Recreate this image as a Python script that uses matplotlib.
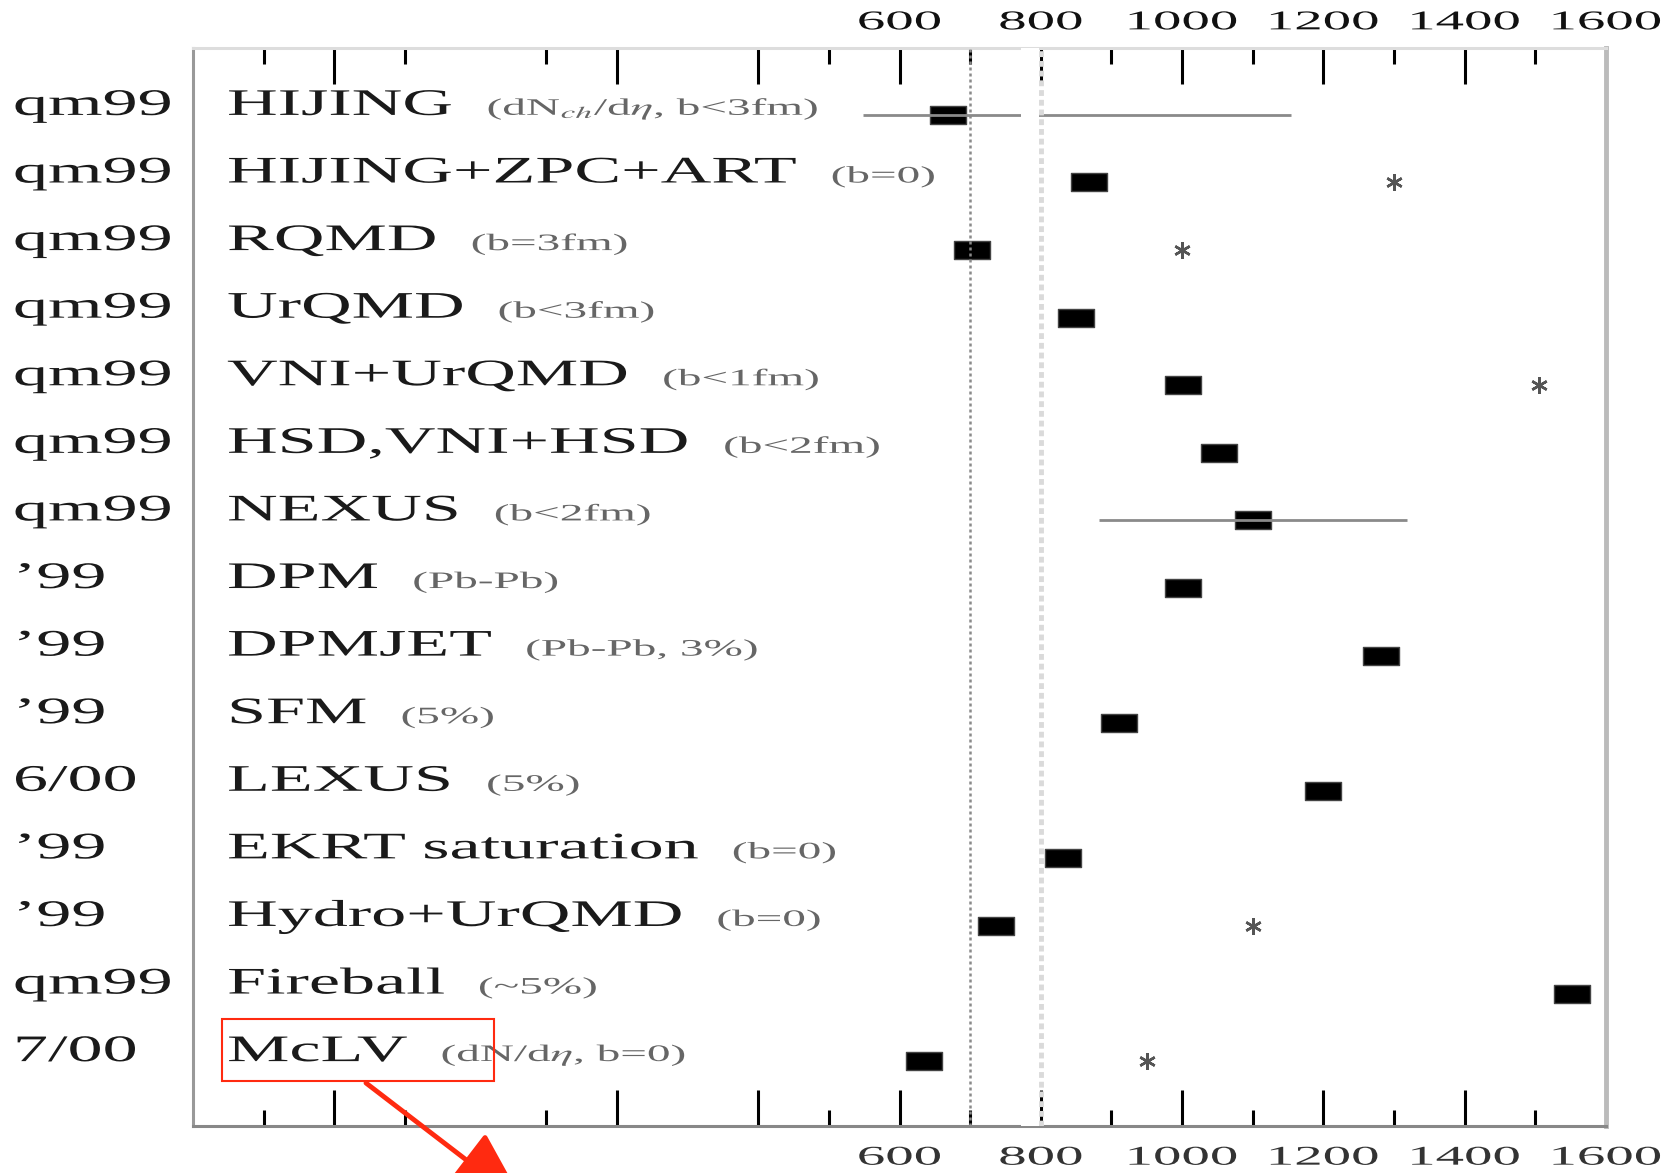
import matplotlib
matplotlib.use("Agg")
import matplotlib.pyplot as plt
import numpy as np
from matplotlib import patheffects
from matplotlib import transforms
from matplotlib.patches import Rectangle
from matplotlib.path import Path
from matplotlib.ticker import FixedLocator, FuncFormatter

plt.rcParams['font.family'] = ['Liberation Serif', 'DejaVu Serif']
plt.rcParams['mathtext.fontset'] = 'stix'

# data
sources = ['qm99', 'qm99', 'qm99', 'qm99', 'qm99', 'qm99', 'qm99', '\u201999',
           '\u201999', '\u201999', '6/00', '\u201999', '\u201999', 'qm99', '7/00']
models = ['HIJING', 'HIJING+ZPC+ART', 'RQMD', 'UrQMD', 'VNI+UrQMD', 'HSD,VNI+HSD',
          'NEXUS', 'DPM', 'DPMJET', 'SFM', 'LEXUS', 'EKRT saturation',
          'Hydro+UrQMD', 'Fireball', 'McLV']
notes = [r'(dN$_{ch}$/d$\eta$, b<3fm)', '(b=0)', '(b=3fm)', '(b<3fm)', '(b<1fm)',
         '(b<2fm)', '(b<2fm)', '(Pb-Pb)', '(Pb-Pb, 3%)', '(5%)', '(5%)', '(b=0)',
         '(b=0)', '(~5%)', r'(dN/d$\eta$, b=0)']
multiplicity = [669, 868, 702, 850, 1001, 1052, 1101, 1001, 1281, 910, 1200, 831,
                736, 1552, 634]
star_rows = [1, 2, 4, 12, 14]
star_values = [1300, 1000, 1505, 1100, 951]
err_rows = [0, 6]
err_low = [549, 883]
err_high = [1154, 1318]

major_ticks = [-200, 200, 400, 600, 800, 1000, 1200, 1400, 1600]
major_colors = ['#888', '#999', '#aaa', '#aaa', '#666', '#bbb', '#888', '#222', '#fff']
minor_ticks = [-300, -100, 100, 500, 700, 900, 1100, 1300, 1500]
minor_colors = ['#bbb', '#bbb', '#aaa', '#888', '#aaa', '#aaa', '#666', '#ccc', '#777']


class Stretch(patheffects.AbstractPathEffect):
    """Draw text wider than the font gives it (the scan is stretched)."""

    def __init__(self, sx, center=False, dy=0):
        super().__init__()
        self.sx = sx
        self.center = center
        self.dy = dy

    def draw_path(self, renderer, gc, tpath, affine, rgbFace=None):
        cx = 0
        if self.center:
            ext = tpath.get_extents()
            cx = (ext.x0 + ext.x1) / 2
        pre = transforms.Affine2D().translate(-cx, 0).scale(self.sx, 1).translate(cx, 0)
        post = transforms.Affine2D().translate(0, self.dy)
        renderer.draw_path(gc, tpath, pre + affine + post, rgbFace)


W, H = 1679, 1173
fig = plt.figure(figsize=(W / 100, H / 100), dpi=100)
ax = fig.add_axes([193 / W, 1 - 1126 / H, (1606 - 193) / W, (1126 - 48) / H])
ax.set_xlim(-400, 1600)
ax.set_ylim(14.96, -0.99)

rows = np.arange(len(models))
rect = Path([(-1, -0.52), (1, -0.52), (1, 0.52), (-1, 0.52), (-1, -0.52)],
            [Path.MOVETO, Path.LINETO, Path.LINETO, Path.LINETO, Path.CLOSEPOLY])
ax.plot(multiplicity, rows, ls='none', marker=rect, ms=26, mfc='black',
        mec='#444', mew=1, zorder=3)
ax.hlines(err_rows, err_low, err_high, color='#8a8a8a', lw=2, zorder=4)
ax.plot(star_values, star_rows, ls='none', marker=(6, 2, 0), ms=12,
        color='#555', mew=1.8, zorder=3)

# reference lines
ax.axvspan(772, 797, color='white', lw=0, zorder=5)
ax.axvline(800, color='#dadada', lw=3.5, ls=(0, (1.2, 0.8)), zorder=6)
ax.axvline(700, color='#8a8a8a', lw=1.8, ls=(0, (1.2, 1.2)), zorder=6)

# axis styling
ax.xaxis.set_major_locator(FixedLocator(major_ticks))
ax.xaxis.set_minor_locator(FixedLocator(minor_ticks))
ax.xaxis.set_major_formatter(FuncFormatter(lambda v, _: f"{int(v)}" if v >= 600 else ""))
ax.set_yticks([])
ax.tick_params(axis='x', which='both', direction='in', top=True, bottom=True,
               labeltop=True, labelbottom=True, width=2.2)
ax.tick_params(axis='x', which='major', length=26, pad=12, labelsize=19.5)
ax.tick_params(axis='x', which='minor', length=11.5)
for tick, c in zip(ax.xaxis.get_major_ticks(), major_colors):
    tick.tick1line.set_color(c)
    tick.tick2line.set_color(c)
    tick.label1.set_color('#333')
    tick.label2.set_color('#111')
    tick.label1.set_path_effects([Stretch(2.1, center=True, dy=-3)])
    tick.label2.set_path_effects([Stretch(2.1, center=True, dy=-4)])
for tick, c in zip(ax.xaxis.get_minor_ticks(), minor_colors):
    tick.tick1line.set_color(c)
    tick.tick2line.set_color(c)

ax.spines['left'].set_color('#999')
ax.spines['bottom'].set_color('#888')
ax.spines['top'].set_color('#ddd')
ax.spines['right'].set_color('#bbb')
for side in ['left', 'bottom', 'top']:
    ax.spines[side].set_linewidth(2.2)
ax.spines['right'].set_linewidth(3.5)

# row texts
trans = transforms.blended_transform_factory(ax.transAxes, ax.transData)
big = Stretch(1.87)
name_texts = []
for i in rows:
    ax.text(-0.1274, i, sources[i], transform=trans, fontsize=27, color='#1a1a1a',
            va='baseline', ha='left', path_effects=[big])
    t = ax.text(0.0241, i, models[i], transform=trans, fontsize=27, color='#1a1a1a',
                va='baseline', ha='left', path_effects=[big])
    name_texts.append(t)

renderer = fig.canvas.get_renderer()
for i, t in zip(rows, name_texts):
    bb = t.get_window_extent(renderer)
    x_end = bb.x0 + bb.width * 1.87 + 33
    xa = ax.transAxes.inverted().transform((x_end, 0))[0]
    ax.text(xa, i, notes[i], transform=trans, fontsize=17, color='#666',
            va='baseline', ha='left', path_effects=[Stretch(2.0)])

# red highlight on McLV
red = '#ff2a10'
fig.add_artist(Rectangle((222 / W, 92 / H), 272 / W, 62 / H, transform=fig.transFigure,
                         fill=False, ec=red, lw=1.5))
ax.annotate('', xy=(525, -32), xytext=(366, 90), xycoords='figure pixels',
            textcoords='figure pixels', annotation_clip=False,
            arrowprops=dict(arrowstyle='-|>,head_length=1.6,head_width=0.7',
                            color=red, lw=3.5, mutation_scale=30, shrinkA=0, shrinkB=0))

fig.savefig('out.png', dpi=100)
plt.close(fig)
